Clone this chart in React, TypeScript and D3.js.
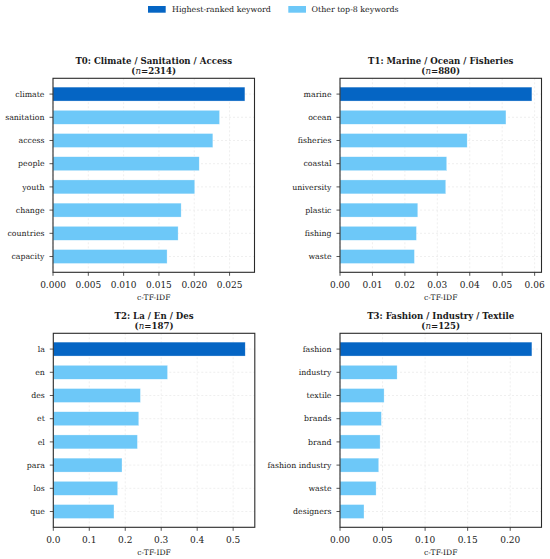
import * as d3 from "d3";

// topic keyword data
const t0Words = ["climate", "sanitation", "access", "people", "youth", "change", "countries", "capacity"];
const t0Values = [0.02717, 0.02358, 0.02263, 0.0207, 0.02007, 0.01814, 0.01771, 0.01615];
const t0Ticks = [0, 0.005, 0.01, 0.015, 0.02, 0.025];

const t1Words = ["marine", "ocean", "fisheries", "coastal", "university", "plastic", "fishing", "waste"];
const t1Values = [0.05916, 0.05116, 0.0392, 0.0329, 0.0326, 0.02398, 0.02356, 0.02294];
const t1Ticks = [0, 0.01, 0.02, 0.03, 0.04, 0.05, 0.06];

const t2Words = ["la", "en", "des", "et", "el", "para", "los", "que"];
const t2Values = [0.5335, 0.3176, 0.2422, 0.2376, 0.2338, 0.191, 0.179, 0.1687];
const t2Ticks = [0, 0.1, 0.2, 0.3, 0.4, 0.5];

const t3Words = ["fashion", "industry", "textile", "brands", "brand", "fashion industry", "waste", "designers"];
const t3Values = [0.2255, 0.0671, 0.0518, 0.0486, 0.0471, 0.0455, 0.0424, 0.0282];
const t3Ticks = [0, 0.05, 0.1, 0.15, 0.2];

const legendLabels = ["Highest-ranked keyword", "Other top-8 keywords"];

const colors = {
    top: "#0565c4",
    other: "#6dc8f8",
    spine: "#2a2a2a",
    grid: "#e4e4e4",
    text: "#1a1a1a"
};

const font = "DejaVu Serif, serif";

interface PanelProps {
    x: number,
    y: number,
    title: string,
    n: number,
    words: string[],
    values: number[],
    ticks: number[],
    digits: number
}

const W = 201.5;
const H = 194;

const Panel = ({x, y, title, n, words, values, ticks, digits}: PanelProps) => {
    const max = d3.max(values) || 1;
    const xs = d3.scaleLinear().domain([0, max * 1.05]).range([0, W]);
    // matplotlib style: bars at integer positions, height 0.6, 5% margins
    const ys = d3.scaleLinear().domain([-0.68, words.length - 1 + 0.68]).range([0, H]);
    const bh = ys(0.6) - ys(0);
    const fmt = d3.format(`.${digits}f`);

    return (
        <g transform={`translate(${x},${y})`}>
            <text x={W / 2} y={-14} textAnchor="middle" fontFamily={font} fontWeight="bold" fontSize={8.6} fill={colors.text}>{title}</text>
            <text x={W / 2} y={-4.5} textAnchor="middle" fontFamily={font} fontWeight="bold" fontSize={8.6} fill={colors.text}>
                (<tspan fontStyle="italic" fontWeight="normal">n</tspan>={n})
            </text>
            {ticks.map(t => (
                <line key={`gx${t}`} x1={xs(t)} x2={xs(t)} y1={0} y2={H} stroke={colors.grid} strokeWidth={0.6} strokeDasharray="2,2"/>
            ))}
            {words.map((w, i) => (
                <line key={`gy${w}`} x1={0} x2={W} y1={ys(i)} y2={ys(i)} stroke={colors.grid} strokeWidth={0.6} strokeDasharray="2,2"/>
            ))}
            {words.map((w, i) => (
                <rect key={`b${w}`} x={xs(0)} y={ys(i) - bh / 2} width={xs(values[i]) - xs(0)} height={bh}
                      fill={i === 0 ? colors.top : colors.other} stroke="#fff" strokeOpacity={0.6} strokeWidth={0.5}/>
            ))}
            <rect x={0} y={0} width={W} height={H} fill="none" stroke={colors.spine} strokeWidth={1.1}/>
            {words.map((w, i) => (
                <g key={`yt${w}`}>
                    <line x1={-3.5} x2={0} y1={ys(i)} y2={ys(i)} stroke={colors.spine} strokeWidth={0.8}/>
                    <text x={-8.5} y={ys(i)} dy="0.35em" textAnchor="end" fontFamily={font} fontSize={7.8} fill={colors.text}>{w}</text>
                </g>
            ))}
            {ticks.map(t => (
                <g key={`xt${t}`}>
                    <line x1={xs(t)} x2={xs(t)} y1={H} y2={H + 3.5} stroke={colors.spine} strokeWidth={0.8}/>
                    <text x={xs(t)} y={H + 15.3} textAnchor="middle" fontFamily={font} fontSize={9} fill={colors.text}>{fmt(t)}</text>
                </g>
            ))}
            <text x={W / 2} y={H + 27.5} textAnchor="middle" fontFamily={font} fontSize={7.6} fill={colors.text}>c-TF-IDF</text>
        </g>
    );
};

const App = () => {
    return (
        <svg width={550} height={559} style={{position: "absolute", left: 0, top: 0, background: "#fff"}}>
            <g>
                <rect x={148} y={6} width={17.7} height={6.7} fill={colors.top}/>
                <text x={172} y={12.4} fontFamily={font} fontSize={7.9} fill={colors.text}>{legendLabels[0]}</text>
                <rect x={288.3} y={6} width={17.7} height={6.7} fill={colors.other}/>
                <text x={311.5} y={12.4} fontFamily={font} fontSize={7.9} fill={colors.text}>{legendLabels[1]}</text>
            </g>
            <Panel x={53} y={78.3} title="T0: Climate / Sanitation / Access" n={2314} words={t0Words} values={t0Values} ticks={t0Ticks} digits={3}/>
            <Panel x={340} y={78.3} title="T1: Marine / Ocean / Fisheries" n={880} words={t1Words} values={t1Values} ticks={t1Ticks} digits={2}/>
            <Panel x={53.3} y={333.3} title="T2: La / En / Des" n={187} words={t2Words} values={t2Values} ticks={t2Ticks} digits={1}/>
            <Panel x={340} y={333.3} title="T3: Fashion / Industry / Textile" n={125} words={t3Words} values={t3Values} ticks={t3Ticks} digits={2}/>
        </svg>
    );
};

export default App;
